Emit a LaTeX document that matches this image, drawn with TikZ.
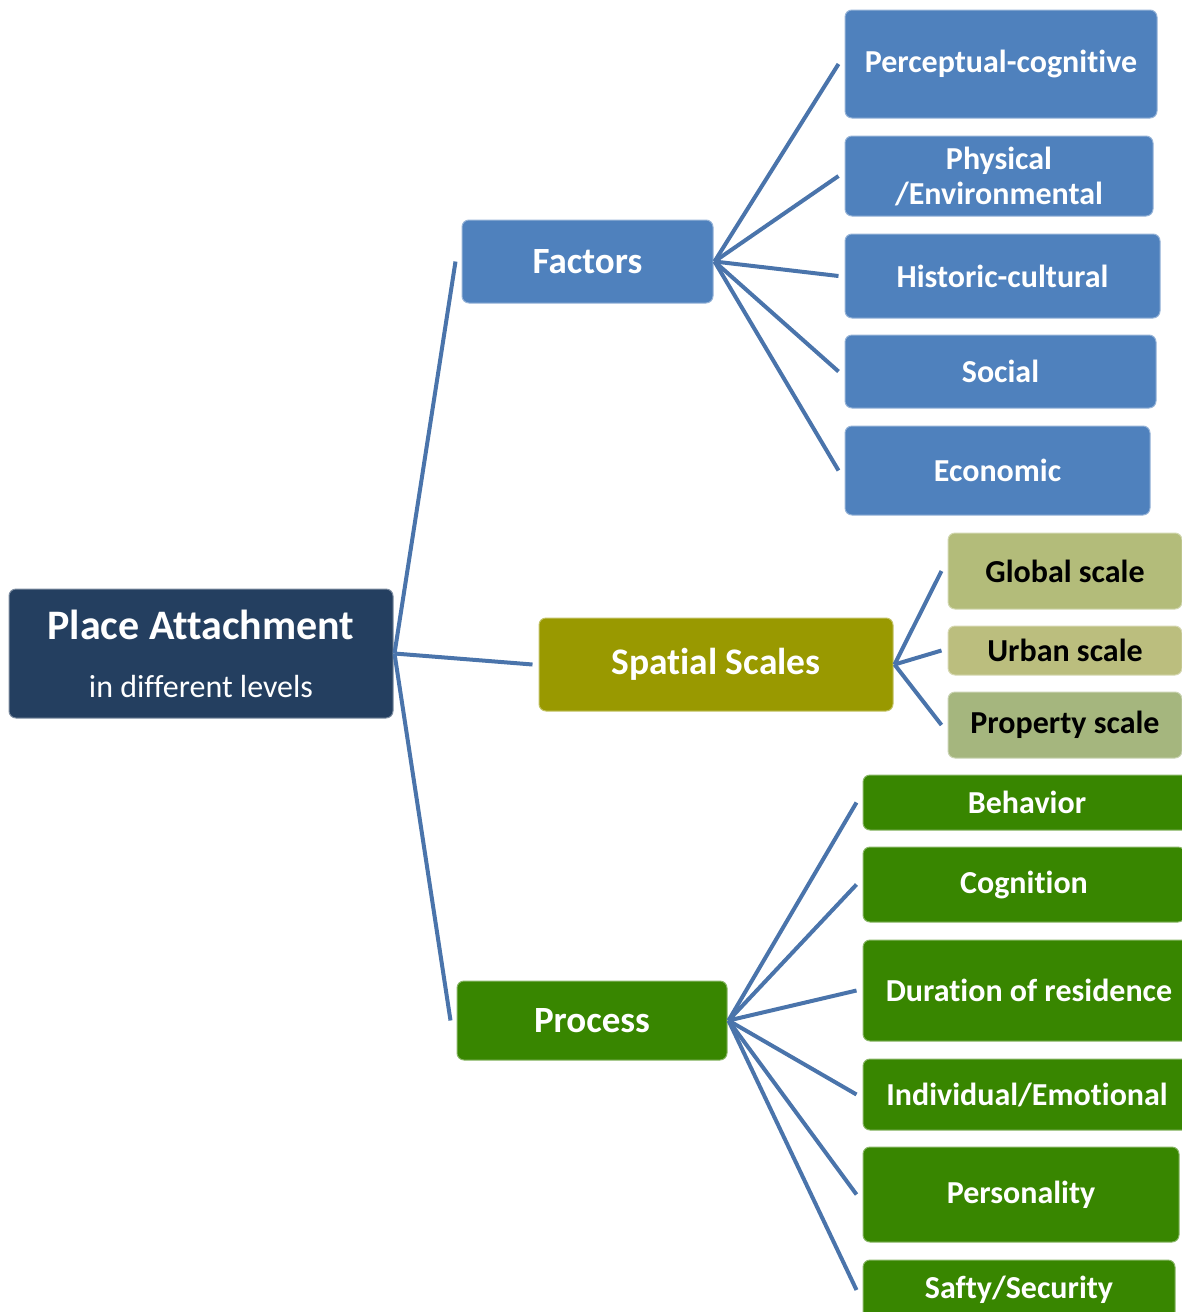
\documentclass[tikz,border=0pt]{standalone}
\usepackage{fontspec}
\setmainfont[RawFeature=-liga]{Carlito}
\usetikzlibrary{calc}
\definecolor{navy}{HTML}{243F60}
\definecolor{fblue}{HTML}{4F81BD}
\definecolor{olive}{HTML}{999900}
\definecolor{pgreen}{HTML}{388600}
\definecolor{oglobal}{HTML}{B3BC7A}
\definecolor{ourban}{HTML}{BBBE7E}
\definecolor{oprop}{HTML}{A5B67E}
\definecolor{linkc}{HTML}{4A74AB}
\tikzset{
  box/.style={rectangle, rounded corners=7pt, fill=#1, draw=#1!60!white, line width=1pt, inner sep=0pt, align=center, text=white, font=\fontsize{32}{35}\selectfont\bfseries},
  link/.style={draw=linkc, line width=4pt},
}
\begin{document}
\begin{tikzpicture}[x=1pt,y=-1pt]
\useasboundingbox (0,0) rectangle (1182,1312);
% root
\node[box=navy, minimum width=384pt, minimum height=129pt, font=\fontsize{32}{58}\selectfont] (pa) at (201,653.5)
  {{\fontsize{42}{58}\selectfont\bfseries Place Attachment}\\in different levels};
% level 1
\node[box=fblue, minimum width=251pt, minimum height=83pt, font=\fontsize{37}{40}\selectfont\bfseries] (fac) at (587.5,261.5) {Factors};
\node[box=olive, minimum width=354pt, minimum height=93pt, font=\fontsize{37.5}{40}\selectfont\bfseries] (sp) at (716,664.5) {Spatial Scales};
\node[box=pgreen, minimum width=270pt, minimum height=79pt, font=\fontsize{37}{40}\selectfont\bfseries] (pro) at (592,1020.5) {Process};
% factors children
\node[box=fblue, minimum width=312pt, minimum height=108pt] (f1) at (1001,64) {Perceptual-cognitive};
\node[box=fblue, minimum width=308pt, minimum height=80pt] (f2) at (999,176) {Physical\\/Environmental};
\node[box=fblue, minimum width=315pt, minimum height=84pt] (f3) at (1002.5,276) {Historic-cultural};
\node[box=fblue, minimum width=311pt, minimum height=73pt] (f4) at (1000.5,371.5) {Social};
\node[box=fblue, minimum width=305pt, minimum height=89pt] (f5) at (997.5,470.5) {Economic};
% spatial children
\node[box=oglobal, text=black, minimum width=234pt, minimum height=76pt] (s1) at (1065,571) {Global scale};
\node[box=ourban, text=black, minimum width=234pt, minimum height=49pt] (s2) at (1065,650.5) {Urban scale};
\node[box=oprop, text=black, minimum width=234pt, minimum height=66pt] (s3) at (1065,725) {Property scale};
% process children
\node[box=pgreen, minimum width=328pt, minimum height=55pt] (p1) at (1027,802.5) {Behavior};
\node[box=pgreen, minimum width=322pt, minimum height=75pt] (p2) at (1024,884.5) {Cognition};
\node[box=pgreen, minimum width=332pt, minimum height=101pt] (p3) at (1029,990.5) {Duration of residence};
\node[box=pgreen, minimum width=328pt, minimum height=71pt] (p4) at (1027,1094.5) {Individual/Emotional};
\node[box=pgreen, minimum width=316pt, minimum height=95pt] (p5) at (1021,1194.5) {Personality};
\node[box=pgreen, minimum width=312pt, minimum height=60pt] (p6) at (1019,1290) {Safty/Security};
% links
\foreach \c in {fac,sp,pro} \draw[link] ($(pa.east)+(1,0)$) -- ($(\c.west)+(-6,0)$);
\foreach \c in {f1,f2,f3,f4,f5} \draw[link] ($(fac.east)+(1,0)$) -- ($(\c.west)+(-6,0)$);
\foreach \c in {s1,s2,s3} \draw[link] ($(sp.east)+(1,0)$) -- ($(\c.west)+(-6,0)$);
\foreach \c in {p1,p2,p3,p4,p5,p6} \draw[link] ($(pro.east)+(1,0)$) -- ($(\c.west)+(-6,0)$);
\end{tikzpicture}
\end{document}
